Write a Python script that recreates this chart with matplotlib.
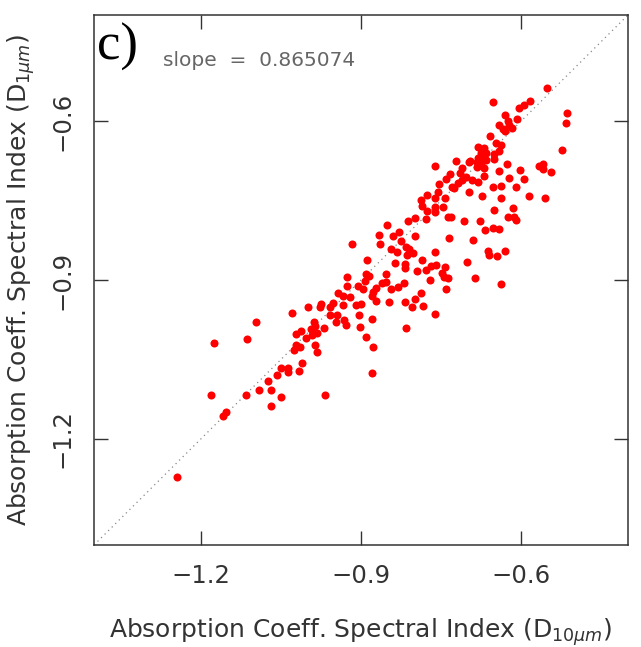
import matplotlib
matplotlib.use("Agg")
import matplotlib.pyplot as plt

# spectral index at 10 um (x) vs 1 um (y)
d10 = [
    -0.552, -0.652, -0.584, -0.595, -0.605, -0.515, -0.517, -0.631, -0.607, -0.625,
    -0.622, -0.642, -0.635, -0.631, -0.618, -0.659, -0.648, -0.638, -0.642, -0.650,
    -0.680, -0.670, -0.676, -0.665, -0.680, -0.672, -0.665, -0.650, -0.695, -0.698,
    -0.683, -0.676, -0.670, -0.682, -0.524, -0.762, -0.723, -0.711, -0.715, -0.734,
    -0.704, -0.693, -0.711, -0.719, -0.741, -0.725, -0.730, -0.753, -0.755, -0.777,
    -0.788, -0.762, -0.743, -0.786, -0.762, -0.747, -0.777, -0.762, -0.738, -0.732,
    -0.799, -0.812, -0.779, -0.627, -0.642, -0.603, -0.670, -0.680, -0.622, -0.595,
    -0.652, -0.637, -0.609, -0.698, -0.674, -0.637, -0.586, -0.556, -0.650, -0.616,
    -0.624, -0.614, -0.609, -0.678, -0.708, -0.567, -0.560, -0.560, -0.545, -0.852,
    -0.867, -0.841, -0.829, -0.798, -0.736, -0.691, -0.667, -0.652, -0.642, -0.865,
    -0.826, -0.816, -0.833, -0.844, -0.811, -0.803, -0.814, -0.786, -0.762, -0.889,
    -0.917, -0.837, -0.818, -0.818, -0.796, -0.779, -0.768, -0.760, -0.743, -0.749,
    -0.745, -0.738, -0.771, -0.702, -0.687, -0.663, -0.661, -0.646, -0.631, -0.638,
    -0.741, -0.891, -0.885, -0.854, -0.861, -0.854, -0.872, -0.878, -0.897, -0.906,
    -0.893, -0.927, -0.927, -0.943, -0.934, -0.921, -0.880, -0.844, -0.831, -0.820,
    -0.788, -0.799, -0.975, -0.977, -0.953, -0.958, -1.000, -1.030, -0.958, -0.945,
    -0.910, -0.900, -0.904, -0.932, -0.947, -0.929, -0.902, -0.880, -0.891, -0.878,
    -0.880, -0.848, -0.871, -0.818, -0.805, -0.784, -0.816, -0.762, -0.988, -0.986,
    -0.994, -0.970, -0.983, -0.992, -1.003, -1.013, -1.022, -1.097, -1.114, -1.175,
    -1.022, -1.015, -1.026, -0.986, -0.983, -1.011, -1.016, -1.050, -1.037, -1.037,
    -1.058, -1.074, -1.069, -1.091, -1.116, -1.181, -1.050, -1.069, -0.968, -1.153,
    -1.159, -1.245, -0.934,
]
d1 = [
    -0.538, -0.564, -0.562, -0.570, -0.575, -0.585, -0.604, -0.589, -0.596, -0.600,
    -0.608, -0.608, -0.615, -0.619, -0.613, -0.628, -0.642, -0.645, -0.657, -0.662,
    -0.649, -0.651, -0.660, -0.660, -0.670, -0.672, -0.674, -0.672, -0.676, -0.677,
    -0.677, -0.683, -0.689, -0.687, -0.655, -0.685, -0.676, -0.689, -0.698, -0.700,
    -0.706, -0.711, -0.711, -0.717, -0.709, -0.726, -0.725, -0.719, -0.734, -0.740,
    -0.749, -0.745, -0.745, -0.760, -0.762, -0.762, -0.770, -0.772, -0.781, -0.781,
    -0.783, -0.789, -0.785, -0.681, -0.694, -0.692, -0.704, -0.715, -0.708, -0.709,
    -0.725, -0.723, -0.725, -0.734, -0.742, -0.745, -0.742, -0.745, -0.768, -0.764,
    -0.781, -0.781, -0.787, -0.789, -0.789, -0.685, -0.681, -0.691, -0.696, -0.796,
    -0.815, -0.817, -0.809, -0.817, -0.821, -0.825, -0.806, -0.802, -0.804, -0.832,
    -0.826, -0.838, -0.847, -0.842, -0.842, -0.849, -0.853, -0.862, -0.847, -0.862,
    -0.832, -0.868, -0.870, -0.877, -0.883, -0.881, -0.874, -0.872, -0.876, -0.887,
    -0.894, -0.896, -0.900, -0.866, -0.896, -0.845, -0.853, -0.855, -0.845, -0.908,
    -0.917, -0.889, -0.893, -0.889, -0.906, -0.904, -0.915, -0.923, -0.917, -0.911,
    -0.902, -0.894, -0.911, -0.925, -0.930, -0.932, -0.930, -0.917, -0.913, -0.906,
    -0.925, -0.936, -0.945, -0.951, -0.943, -0.951, -0.951, -0.962, -0.966, -0.966,
    -0.947, -0.945, -0.966, -0.976, -0.979, -0.985, -0.989, -0.974, -1.008, -1.026,
    -1.076, -0.942, -0.940, -0.942, -0.951, -0.949, -0.991, -0.964, -0.979, -0.987,
    -0.993, -0.991, -1.000, -1.004, -1.010, -0.996, -1.002, -0.979, -1.011, -1.019,
    -1.023, -1.026, -1.032, -1.023, -1.036, -1.057, -1.072, -1.066, -1.066, -1.074,
    -1.079, -1.091, -1.108, -1.108, -1.117, -1.117, -1.121, -1.138, -1.117, -1.149,
    -1.157, -1.272, -0.947,
]

lims = [-1.4, -0.4]
ticks = [-1.2, -0.9, -0.6]
slope = 0.865074

fig = plt.figure(figsize=(6.41, 6.47), dpi=100)
ax = fig.add_axes([94 / 641, 1 - 545 / 647, 534 / 641, 530 / 647])

# 1:1 line
ax.plot(lims, lims, ls=(0, (1, 3)), color="#888888", lw=0.9, zorder=1)
ax.plot(d10, d1, "o", color="#ff0000", ms=5.8, mec="none", zorder=2)

ax.set_xlim(lims)
ax.set_ylim(lims)
ax.set_xticks(ticks)
ax.set_yticks(ticks)
ax.set_xticklabels(["\u22121.2", "\u22120.9", "\u22120.6"])
ax.set_yticklabels(["\u22121.2", "\u22120.9", "\u22120.6"], rotation=90, va="center")
ax.tick_params(direction="in", length=10, width=1.0, top=True, right=True,
               labelsize=17.5, color="#333333", labelcolor="#333333", pad=14)
for s in ax.spines.values():
    s.set_linewidth(1.1)
    s.set_color("#333333")

ax.set_xlabel(r"Absorption Coeff. Spectral Index (D$_{10\mu m}$)", fontsize=18,
              color="#333333", labelpad=20)
ax.set_ylabel(r"Absorption Coeff. Spectral Index (D$_{1\mu m}$)", fontsize=18,
              color="#333333", labelpad=10)

ax.text(0.005, 0.985, "c)", transform=ax.transAxes, fontsize=38,
        family="Liberation Serif", va="top", ha="left")
ax.text(0.13, 0.915, "slope  =  %.6f" % slope, transform=ax.transAxes, fontsize=14.5,
        color="#666666", va="center", ha="left")

fig.savefig("out.png", dpi=100)
